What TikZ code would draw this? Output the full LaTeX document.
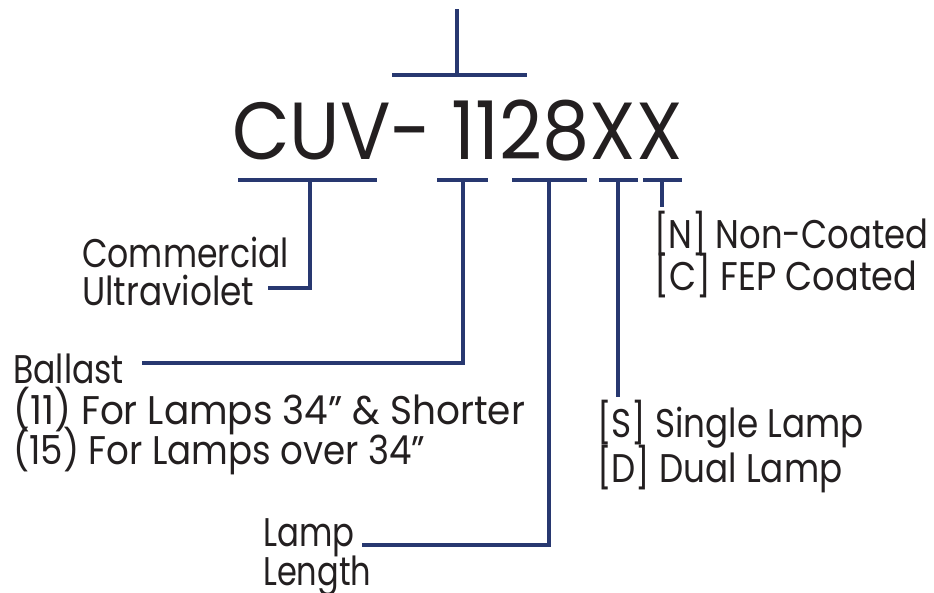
\documentclass[tikz,border=0pt]{standalone}
\usepackage{fontspec}
\setmainfont{Poppins}[FakeStretch=0.9]
\definecolor{navy}{RGB}{40,56,112}
\definecolor{ink}{RGB}{35,31,32}
\newcommand{\hs}[2]{\scalebox{#1}[1]{#2}}
\begin{document}
\begin{tikzpicture}[x=1pt,y=-1pt,
  lbl/.style={font=\fontsize{40}{40}\selectfont, text=ink, inner sep=0pt, anchor=base west},
  big/.style={font=\fontsize{81}{81}\selectfont, text=ink, inner sep=0pt, anchor=base west},
  brk/.style={draw=navy, line width=3.4pt}]
\useasboundingbox (0,0) rectangle (934,592);
% main code
\node[big] (code) at (232,159) {\hs{1.025}{CUV- 1128XX}};
% top bracket
\coordinate (topL) at (392,75);
\coordinate (topR) at (527,75);
\coordinate (topM) at (457,75);
\coordinate (topE) at (457,9);
\draw[brk] (topL) -- (topR);
\draw[brk] (topM) -- (topE);
% bottom brackets
\coordinate (cuvL) at (238,180); \coordinate (cuvR) at (377,180); \coordinate (cuvM) at (310,180);
\coordinate (balL) at (437,180); \coordinate (balR) at (488,180); \coordinate (balM) at (463,180);
\coordinate (lenL) at (512,180); \coordinate (lenR) at (587,180); \coordinate (lenM) at (549,180);
\coordinate (lmpL) at (599,180); \coordinate (lmpR) at (638,180); \coordinate (lmpM) at (618,180);
\coordinate (coaL) at (643,180); \coordinate (coaR) at (682,180); \coordinate (coaM) at (662,180);
\draw[brk] (cuvL) -- (cuvR);
\draw[brk] (balL) -- (balR);
\draw[brk] (lenL) -- (lenR);
\draw[brk] (lmpL) -- (lmpR);
\draw[brk] (coaL) -- (coaR);
% labels
\node[lbl] (comm) at (82,267) {\hs{0.92}{Commercial}};
\node[lbl] (ultra) at (82,305) {\hs{0.955}{Ultraviolet}};
\node[lbl] (ball) at (13,383) {\hs{0.92}{Ballast}};
\node[lbl] (b11) at (13,424) {\hs{1.04}{(11) For Lamps 34” \& Shorter}};
\node[lbl] (b15) at (13,464) {\hs{0.99}{(15) For Lamps over 34”}};
\node[lbl] (lamp) at (263,546) {\hs{0.9}{Lamp}};
\node[lbl] (length) at (263,585) {\hs{0.89}{Length}};
\node[lbl] (sgl) at (597,437) {\hs{0.95}{[S] Single Lamp}};
\node[lbl] (dual) at (597,482) {\hs{0.95}{[D] Dual Lamp}};
\node[lbl] (non) at (654,248) {\hs{0.94}{[N] Non-Coated}};
\node[lbl] (fep) at (654,290) {\hs{0.975}{[C] FEP Coated}};
% connector ends
\coordinate (cuvE) at (268,288);
\coordinate (balE) at (142,363);
\coordinate (lenE) at (362,545);
\coordinate (lmpE) at (618,397);
\coordinate (coaE) at (662,207);
\draw[brk] (cuvM) |- (cuvE);
\draw[brk] (balM) |- (balE);
\draw[brk] (lenM) |- (lenE);
\draw[brk] (lmpM) -- (lmpE);
\draw[brk] (coaM) -- (coaE);
\end{tikzpicture}
\end{document}
